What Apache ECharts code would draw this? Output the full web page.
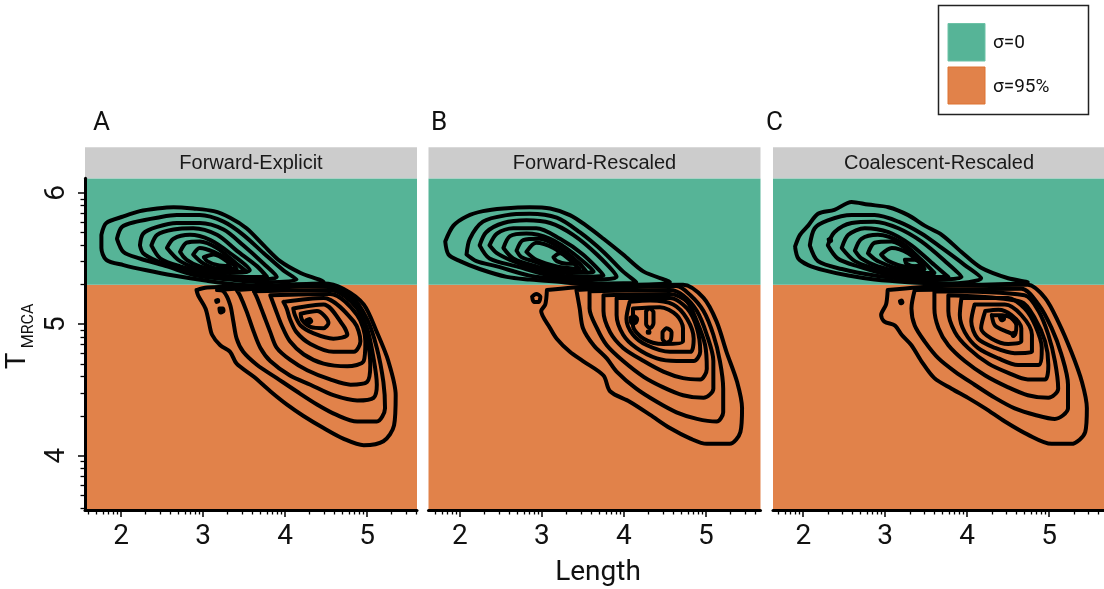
<!DOCTYPE html>
<html><head><meta charset="utf-8">
<script src="https://cdn.jsdelivr.net/npm/echarts@6/dist/echarts.min.js"></script>
<style>html,body{margin:0;padding:0;background:#fff}#c{width:1104px;height:589px}</style>
</head><body><div id="c"></div>
<script>
// ---------- data ----------
const panelTitles = ['Forward-Explicit', 'Forward-Rescaled', 'Coalescent-Rescaled'];
const panelLetters = ['A', 'B', 'C'];
const xTicks = [2, 3, 4, 5];
const yTicks = [4, 5, 6];
const xRanges = [[1.56, 5.61], [1.616, 5.665], [1.631, 5.669]];
const yRange = [3.587, 6.11];
const sigmaBoundary = 5.301;
const legendLabels = ['σ=0', 'σ=95%'];
const xTitle = 'Length';

// Panel A contours (Forward-Explicit)
const A_U1 = [[1.76,5.68],[1.82,5.77],[2.03,5.82],[2.23,5.86],[2.44,5.88],[2.64,5.89],[2.88,5.88],[3.13,5.86],[3.33,5.81],[3.53,5.73],[3.74,5.60],[3.94,5.48],[4.19,5.39],[4.47,5.32],[4.27,5.30],[3.90,5.29],[3.45,5.30],[3.05,5.33],[2.64,5.37],[2.31,5.41],[2.03,5.45],[1.82,5.49],[1.76,5.58]];
const A_U2 = [[1.95,5.65],[2.01,5.74],[2.19,5.78],[2.44,5.81],[2.68,5.83],[2.96,5.83],[3.25,5.78],[3.49,5.68],[3.74,5.54],[3.98,5.41],[4.14,5.34],[3.74,5.32],[3.33,5.34],[2.92,5.37],[2.56,5.44],[2.23,5.50],[2.03,5.55]];
const A_U3 = [[2.23,5.60],[2.27,5.69],[2.44,5.74],[2.68,5.77],[2.96,5.77],[3.25,5.72],[3.49,5.60],[3.74,5.46],[3.90,5.36],[3.53,5.34],[3.13,5.36],[2.76,5.41],[2.44,5.48],[2.27,5.54]];
const A_U4 = [[2.37,5.60],[2.44,5.68],[2.64,5.72],[2.88,5.73],[3.17,5.68],[3.41,5.56],[3.66,5.44],[3.78,5.36],[3.41,5.36],[3.05,5.39],[2.72,5.44],[2.48,5.50]];
const A_U5 = [[2.56,5.58],[2.64,5.65],[2.84,5.68],[3.09,5.64],[3.33,5.54],[3.57,5.41],[3.33,5.39],[3.01,5.41],[2.72,5.48]];
const A_U6 = [[2.72,5.55],[2.80,5.62],[2.96,5.63],[3.17,5.58],[3.41,5.46],[3.53,5.40],[3.25,5.40],[2.96,5.44],[2.80,5.49]];
const A_U7 = [[2.88,5.53],[2.96,5.58],[3.13,5.55],[3.33,5.48],[3.41,5.42],[3.21,5.42],[3.01,5.46]];
const A_U8 = [[3.01,5.51],[3.13,5.53],[3.29,5.48],[3.33,5.44],[3.17,5.45],[3.05,5.48]];
const A_L1 = [[2.92,5.26],[3.05,5.28],[3.66,5.29],[4.47,5.31],[4.71,5.27],[4.96,5.15],[5.12,4.94],[5.26,4.72],[5.35,4.46],[5.33,4.23],[5.20,4.11],[4.96,4.08],[4.71,4.13],[4.47,4.21],[4.23,4.30],[4.02,4.39],[3.82,4.49],[3.62,4.60],[3.41,4.70],[3.33,4.79],[3.21,4.84],[3.11,4.92],[3.07,5.02],[3.03,5.12],[2.94,5.22]];
const A_L2 = [[3.17,5.26],[4.47,5.30],[4.80,5.22],[5.00,5.04],[5.12,4.82],[5.20,4.56],[5.22,4.36],[5.12,4.26],[4.88,4.26],[4.63,4.31],[4.39,4.39],[4.14,4.49],[3.90,4.59],[3.66,4.69],[3.49,4.79],[3.41,4.89],[3.37,5.02],[3.33,5.15],[3.25,5.25]];
const A_L3 = [[3.41,5.26],[4.47,5.29],[4.84,5.17],[5.00,4.97],[5.08,4.74],[5.12,4.54],[5.08,4.44],[4.88,4.42],[4.59,4.46],[4.31,4.54],[4.06,4.61],[3.82,4.72],[3.70,4.82],[3.62,4.94],[3.53,5.10],[3.45,5.22]];
const A_L4 = [[3.62,5.25],[4.55,5.26],[4.88,5.12],[5.00,4.89],[5.04,4.69],[5.00,4.56],[4.80,4.54],[4.55,4.58],[4.27,4.65],[4.06,4.73],[3.90,4.82],[3.82,4.94],[3.74,5.07],[3.66,5.20]];
const A_L5 = [[3.82,5.22],[4.55,5.23],[4.88,5.07],[4.98,4.87],[4.96,4.72],[4.76,4.68],[4.47,4.70],[4.23,4.77],[4.06,4.87],[3.96,4.99],[3.88,5.12]];
const A_L6 = [[3.98,5.17],[4.47,5.20],[4.84,5.02],[4.92,4.87],[4.84,4.79],[4.59,4.79],[4.31,4.85],[4.14,4.94],[4.06,5.04],[4.02,5.12]];
const A_L7 = [[4.10,5.12],[4.47,5.15],[4.71,4.99],[4.76,4.92],[4.59,4.89],[4.35,4.93],[4.19,4.99],[4.12,5.07]];
const A_L8 = [[4.19,5.08],[4.39,5.10],[4.53,5.01],[4.47,4.97],[4.31,4.98],[4.21,5.03]];
const A_L9 = [[4.26,5.03],[4.30,5.04],[4.32,5.02],[4.28,5.01]];
const A_S1 = [[3.20,5.12],[3.24,5.12],[3.25,5.10],[3.21,5.09]];
const A_S2 = [[3.16,5.18],[3.18,5.185],[3.185,5.175],[3.165,5.17]];

// Panel B contours (Forward-Rescaled)
const B_U1 = [[1.82,5.63],[1.92,5.75],[2.08,5.82],[2.28,5.86],[2.53,5.88],[2.85,5.89],[3.10,5.88],[3.34,5.83],[3.54,5.75],[3.75,5.65],[3.99,5.53],[4.24,5.40],[4.56,5.32],[4.07,5.30],[3.67,5.30],[3.26,5.32],[2.85,5.34],[2.57,5.36],[2.24,5.42],[2.00,5.48],[1.86,5.53]];
const B_U2 = [[2.08,5.53],[2.12,5.65],[2.28,5.78],[2.57,5.83],[2.85,5.84],[3.18,5.81],[3.46,5.70],[3.75,5.55],[3.99,5.40],[4.15,5.32],[3.75,5.31],[3.26,5.34],[2.85,5.37],[2.45,5.44],[2.20,5.48]];
const B_U3 = [[2.24,5.60],[2.32,5.70],[2.53,5.77],[2.81,5.79],[3.10,5.77],[3.38,5.68],[3.67,5.53],[3.91,5.36],[3.54,5.34],[3.10,5.37],[2.69,5.44],[2.36,5.50]];
const B_U4 = [[2.36,5.60],[2.45,5.69],[2.65,5.73],[2.93,5.73],[3.22,5.65],[3.50,5.53],[3.75,5.37],[3.38,5.36],[2.97,5.41],[2.61,5.49],[2.45,5.54]];
const B_U5 = [[2.53,5.58],[2.61,5.67],[2.81,5.69],[3.10,5.65],[3.38,5.54],[3.63,5.40],[3.30,5.39],[2.93,5.44],[2.65,5.50]];
const B_U6 = [[2.69,5.56],[2.77,5.64],[2.97,5.65],[3.22,5.58],[3.46,5.46],[3.54,5.40],[3.22,5.41],[2.89,5.48],[2.75,5.51]];
const B_U7 = [[2.81,5.55],[2.93,5.62],[3.14,5.58],[3.34,5.49],[3.46,5.42],[3.18,5.44],[2.93,5.49]];
const B_U8 = [[3.14,5.51],[3.22,5.54],[3.34,5.51],[3.42,5.46],[3.30,5.46],[3.18,5.48]];
const B_L1 = [[3.06,5.26],[3.04,5.15],[2.99,5.10],[3.10,4.97],[3.18,4.89],[3.34,4.79],[3.50,4.72],[3.75,4.61],[3.83,4.49],[4.07,4.41],[4.32,4.31],[4.56,4.21],[4.81,4.13],[5.01,4.09],[5.29,4.09],[5.42,4.18],[5.44,4.36],[5.38,4.56],[5.25,4.79],[5.13,5.02],[4.97,5.20],[4.72,5.30],[3.67,5.29]];
const B_L2 = [[3.42,5.26],[3.46,5.12],[3.50,4.97],[3.63,4.84],[3.79,4.74],[3.91,4.64],[4.15,4.51],[4.40,4.41],[4.64,4.33],[4.89,4.28],[5.13,4.26],[5.21,4.33],[5.21,4.51],[5.17,4.72],[5.09,4.92],[4.97,5.10],[4.81,5.22],[4.64,5.29]];
const B_L3 = [[3.58,5.25],[3.58,5.12],[3.67,4.97],[3.79,4.84],[3.99,4.72],[4.24,4.60],[4.48,4.52],[4.72,4.46],[4.97,4.44],[5.09,4.51],[5.09,4.72],[5.01,4.92],[4.89,5.10],[4.72,5.22],[4.56,5.26]];
const B_L4 = [[3.75,5.22],[3.75,5.10],[3.83,4.94],[3.99,4.82],[4.24,4.72],[4.48,4.64],[4.72,4.59],[4.93,4.58],[5.01,4.66],[4.99,4.84],[4.89,5.02],[4.77,5.17],[4.56,5.23]];
const B_L5 = [[3.91,5.20],[3.91,5.07],[3.99,4.92],[4.15,4.82],[4.40,4.74],[4.64,4.72],[4.85,4.72],[4.93,4.79],[4.89,4.97],[4.77,5.12],[4.56,5.20]];
const B_L6 = [[4.07,5.17],[4.03,5.04],[4.11,4.92],[4.28,4.84],[4.56,4.79],[4.81,4.79],[4.85,4.89],[4.77,5.04],[4.60,5.15],[4.32,5.18]];
const B_L7 = [[4.11,5.12],[4.11,4.99],[4.24,4.89],[4.48,4.85],[4.72,4.87],[4.72,4.97],[4.64,5.07],[4.44,5.13]];
const B_S1 = [[4.08,5.05],[4.12,5.06],[4.16,5.04],[4.14,5.01],[4.09,5.01]];
const B_S2 = [[4.27,5.10],[4.31,5.12],[4.36,5.09],[4.36,5.01],[4.32,4.97],[4.27,5.00]];
const B_S3 = [[4.47,4.94],[4.52,4.97],[4.58,4.94],[4.57,4.88],[4.52,4.86],[4.47,4.89]];
const B_S4 = [[4.29,4.945],[4.31,4.945],[4.31,4.935],[4.29,4.935]];
const B_S5 = [[2.88,5.21],[2.93,5.23],[2.98,5.21],[2.96,5.17],[2.90,5.17]];

// Panel C contours (Coalescent-Rescaled)
const C_U1 = [[1.90,5.59],[1.96,5.68],[2.06,5.75],[2.18,5.84],[2.38,5.87],[2.59,5.93],[2.79,5.91],[3.04,5.89],[3.28,5.83],[3.48,5.75],[3.69,5.68],[3.93,5.55],[4.17,5.43],[4.50,5.35],[4.74,5.32],[4.09,5.30],[3.69,5.31],[3.28,5.32],[2.87,5.34],[2.55,5.37],[2.26,5.41],[2.06,5.45],[1.94,5.50]];
const C_U2 = [[2.08,5.60],[2.14,5.73],[2.30,5.79],[2.59,5.83],[2.87,5.83],[3.16,5.78],[3.44,5.69],[3.69,5.58],[3.97,5.45],[4.17,5.35],[3.77,5.31],[3.28,5.34],[2.87,5.37],[2.47,5.42],[2.18,5.48]];
const C_U3 = [[2.30,5.60],[2.38,5.70],[2.59,5.77],[2.87,5.78],[3.16,5.73],[3.44,5.63],[3.73,5.48],[3.93,5.36],[3.52,5.34],[3.08,5.37],[2.67,5.44],[2.42,5.50]];
const C_U4 = [[2.47,5.58],[2.55,5.68],[2.75,5.73],[3.04,5.70],[3.32,5.60],[3.60,5.45],[3.77,5.36],[3.36,5.36],[2.95,5.41],[2.63,5.48]];
const C_U5 = [[2.63,5.56],[2.71,5.65],[2.91,5.68],[3.20,5.62],[3.44,5.49],[3.60,5.39],[3.28,5.39],[2.91,5.44],[2.71,5.50]];
const C_U6 = [[2.79,5.54],[2.87,5.62],[3.08,5.63],[3.32,5.54],[3.48,5.42],[3.20,5.42],[2.91,5.48]];
const C_U7 = [[2.95,5.53],[3.08,5.58],[3.28,5.54],[3.44,5.45],[3.24,5.44],[3.04,5.48]];
const C_U8 = [[3.24,5.49],[3.36,5.49],[3.48,5.45],[3.36,5.44],[3.26,5.46]];
const C_L1 = [[3.03,5.26],[3.01,5.15],[2.95,5.07],[2.99,5.02],[3.12,4.99],[3.20,4.92],[3.32,4.84],[3.44,4.72],[3.60,4.59],[3.81,4.51],[4.01,4.44],[4.22,4.36],[4.46,4.26],[4.74,4.16],[5.03,4.09],[5.27,4.09],[5.44,4.18],[5.46,4.36],[5.40,4.56],[5.27,4.79],[5.11,5.02],[4.95,5.20],[4.74,5.30],[3.69,5.29]];
const C_L2 = [[3.36,5.26],[3.32,5.12],[3.36,4.99],[3.48,4.87],[3.65,4.74],[3.85,4.64],[4.09,4.54],[4.34,4.44],[4.58,4.36],[4.83,4.31],[5.07,4.28],[5.23,4.36],[5.23,4.54],[5.15,4.77],[5.03,4.97],[4.87,5.15],[4.66,5.27]];
const C_L3 = [[3.60,5.25],[3.60,5.12],[3.65,4.97],[3.77,4.84],[3.97,4.72],[4.22,4.61],[4.50,4.52],[4.74,4.46],[4.99,4.44],[5.11,4.51],[5.07,4.72],[4.99,4.92],[4.87,5.10],[4.70,5.22]];
const C_L4 = [[3.77,5.22],[3.77,5.10],[3.85,4.94],[4.01,4.82],[4.26,4.70],[4.50,4.63],[4.74,4.58],[4.95,4.58],[4.99,4.69],[4.95,4.87],[4.83,5.04],[4.66,5.17]];
const C_L5 = [[3.93,5.20],[3.91,5.07],[3.97,4.94],[4.13,4.82],[4.38,4.74],[4.62,4.69],[4.87,4.69],[4.91,4.82],[4.83,4.99],[4.70,5.12],[4.50,5.20]];
const C_L6 = [[4.09,5.15],[4.05,5.02],[4.13,4.89],[4.34,4.82],[4.58,4.78],[4.79,4.79],[4.79,4.92],[4.66,5.07],[4.46,5.15]];
const C_L7 = [[4.22,5.10],[4.17,4.97],[4.30,4.89],[4.50,4.85],[4.66,4.87],[4.66,4.97],[4.54,5.07],[4.38,5.11]];
const C_L8 = [[4.30,5.07],[4.34,4.99],[4.50,4.94],[4.58,4.92],[4.60,4.99],[4.50,5.06]];
const C_S1 = [[4.40,5.05],[4.43,5.06],[4.45,5.04],[4.42,5.03]];
const C_S2 = [[4.55,4.93],[4.57,4.935],[4.58,4.92],[4.56,4.91]];
const C_S3 = [[3.18,5.175],[3.20,5.18],[3.21,5.165],[3.19,5.16]];
const C_S4 = [[2.31,5.645],[2.33,5.65],[2.34,5.635],[2.32,5.63]];

const panelContours = [
  [A_U1,A_U2,A_U3,A_U4,A_U5,A_U6,A_U7,A_U8,A_L1,A_L2,A_L3,A_L4,A_L5,A_L6,A_L7,A_L8,A_L9,A_S1,A_S2],
  [B_U1,B_U2,B_U3,B_U4,B_U5,B_U6,B_U7,B_U8,B_L1,B_L2,B_L3,B_L4,B_L5,B_L6,B_L7,B_S1,B_S2,B_S3,B_S4,B_S5],
  [C_U1,C_U2,C_U3,C_U4,C_U5,C_U6,C_U7,C_U8,C_L1,C_L2,C_L3,C_L4,C_L5,C_L6,C_L7,C_L8,C_S1,C_S2,C_S3,C_S4]
];

// ---------- styling / layout ----------
const GREEN = '#56b497', ORANGE = '#e1824a';
const gridBoxes = [
  {left: 85, top: 178.3, width: 332, height: 331.7},
  {left: 428.5, top: 178.3, width: 332, height: 331.7},
  {left: 773, top: 178.3, width: 332, height: 331.7}
];
const FONT = 'Roboto, "Noto Sans", sans-serif';
const minorOf = (ticks, lo, hi) => {
  const out = [];
  for (let n = Math.floor(lo) - 1; n <= Math.ceil(hi); n++)
    for (let k = 2; k <= 9; k++) { const v = n + Math.log10(k); if (v > lo && v < hi) out.push(v); }
  return out;
};

const grid = [], xAxis = [], yAxis = [], series = [], graphic = [];
gridBoxes.forEach((g, i) => {
  grid.push(Object.assign({containLabel: false}, g));
  const [xmin, xmax] = xRanges[i];
  xAxis.push({
    gridIndex: i, type: 'value', min: xmin, max: xmax, z: 10,
    axisLine: {show: true, onZero: false, lineStyle: {color: '#000', width: 3}},
    axisTick: {show: true, customValues: xTicks, length: 7, lineStyle: {color: '#000', width: 1.5}},
    axisLabel: {show: true, customValues: xTicks, fontSize: 28, color: '#111', margin: 13, fontFamily: FONT},
    splitLine: {show: false}
  });
  xAxis.push({
    gridIndex: i, type: 'value', min: xmin, max: xmax, position: 'bottom', z: 10,
    axisLine: {show: false},
    axisTick: {show: true, customValues: minorOf(xTicks, xmin, xmax), length: 4.5, lineStyle: {color: '#000', width: 1.3}},
    axisLabel: {show: false}, splitLine: {show: false}
  });
});
yAxis.push({
  gridIndex: 0, type: 'value', min: yRange[0], max: yRange[1], z: 10,
  axisLine: {show: true, onZero: false, lineStyle: {color: '#000', width: 3}},
  axisTick: {show: true, customValues: yTicks, length: 7, lineStyle: {color: '#000', width: 1.5}},
  axisLabel: {show: true, customValues: yTicks, rotate: 90, fontSize: 28, color: '#111', margin: 14, fontFamily: FONT},
  splitLine: {show: false}
});
yAxis.push({
  gridIndex: 0, type: 'value', min: yRange[0], max: yRange[1], position: 'left', z: 10,
  axisLine: {show: false},
  axisTick: {show: true, customValues: minorOf(yTicks, yRange[0], yRange[1]), length: 4.5, lineStyle: {color: '#000', width: 1.3}},
  axisLabel: {show: false}, splitLine: {show: false}
});
yAxis.push({gridIndex: 1, type: 'value', min: yRange[0], max: yRange[1], show: false});
yAxis.push({gridIndex: 2, type: 'value', min: yRange[0], max: yRange[1], show: false});
const yIdx = [0, 2, 3];
const bands = [[yRange[0], sigmaBoundary], [sigmaBoundary, yRange[1]]];
const bandColors = [ORANGE, GREEN];

gridBoxes.forEach((g, i) => {
  series.push({
    type: 'custom', xAxisIndex: 2 * i, yAxisIndex: yIdx[i], silent: true, z: 1,
    data: bands, clip: true,
    renderItem: (params, api) => {
      const cs = params.coordSys;
      const top = api.coord([xRanges[i][0], api.value(1)])[1];
      const bot = api.coord([xRanges[i][0], api.value(0)])[1];
      return {type: 'rect', shape: {x: cs.x, y: top, width: cs.width, height: bot - top},
              style: {fill: bandColors[params.dataIndex]}};
    }
  });
  panelContours[i].forEach(c => {
    series.push({
      type: 'line', xAxisIndex: 2 * i, yAxisIndex: yIdx[i], silent: true, z: 3,
      data: c.concat([c[0]]), showSymbol: false, symbol: 'none', smooth: 0.3,
      lineStyle: {color: '#000', width: 4, join: 'round', cap: 'round'}, clip: true
    });
  });
  // facet strip
  graphic.push({type: 'rect', z: 5, shape: {x: g.left, y: 147.3, width: g.width, height: 31}, style: {fill: '#cccccc'}});
  graphic.push({type: 'text', z: 6, x: g.left + g.width / 2, y: 163,
    style: {text: panelTitles[i], fontSize: 20, fontFamily: '"Liberation Sans", Arial, sans-serif', fill: '#1a1a1a', align: 'center', verticalAlign: 'middle'}});
});

// panel letters
[93, 431, 766].forEach((x, i) => graphic.push({type: 'text', z: 6, x: x, y: 123,
  style: {text: panelLetters[i], fontSize: 26, fontFamily: FONT, fill: '#111', align: 'left', verticalAlign: 'middle'}}));
// y title T_MRCA
graphic.push({type: 'text', z: 6, x: 18, y: 361, rotation: Math.PI / 2,
  style: {text: 'T', fontSize: 28, fontFamily: FONT, fill: '#111', align: 'center', verticalAlign: 'middle'}});
graphic.push({type: 'text', z: 6, x: 29, y: 326, rotation: Math.PI / 2,
  style: {text: 'MRCA', fontSize: 16, fontFamily: FONT, fill: '#111', align: 'center', verticalAlign: 'middle'}});
// x title
graphic.push({type: 'text', z: 6, x: 598, y: 573,
  style: {text: xTitle, fontSize: 28, fontFamily: FONT, fill: '#111', align: 'center', verticalAlign: 'middle'}});
// legend
graphic.push({type: 'rect', z: 6, shape: {x: 938.5, y: 5.5, width: 150, height: 109}, style: {fill: '#fff', stroke: '#222', lineWidth: 1.5}});
graphic.push({type: 'rect', z: 7, shape: {x: 948, y: 23.5, width: 37, height: 37.5}, style: {fill: GREEN, stroke: '#6cc2a6', lineWidth: 1}});
graphic.push({type: 'rect', z: 7, shape: {x: 948, y: 67, width: 37, height: 37}, style: {fill: ORANGE, stroke: '#de7330', lineWidth: 1}});
graphic.push({type: 'text', z: 7, x: 993, y: 43.5, style: {text: legendLabels[0], fontSize: 19, fontFamily: FONT, fill: '#111', align: 'left', verticalAlign: 'middle'}});
graphic.push({type: 'text', z: 7, x: 993, y: 87, style: {text: legendLabels[1], fontSize: 19, fontFamily: FONT, fill: '#111', align: 'left', verticalAlign: 'middle'}});

const chart = echarts.init(document.getElementById('c'), null, {renderer: 'canvas'});
chart.setOption({animation: false, backgroundColor: '#fff', grid, xAxis, yAxis, series, graphic});
</script></body></html>
